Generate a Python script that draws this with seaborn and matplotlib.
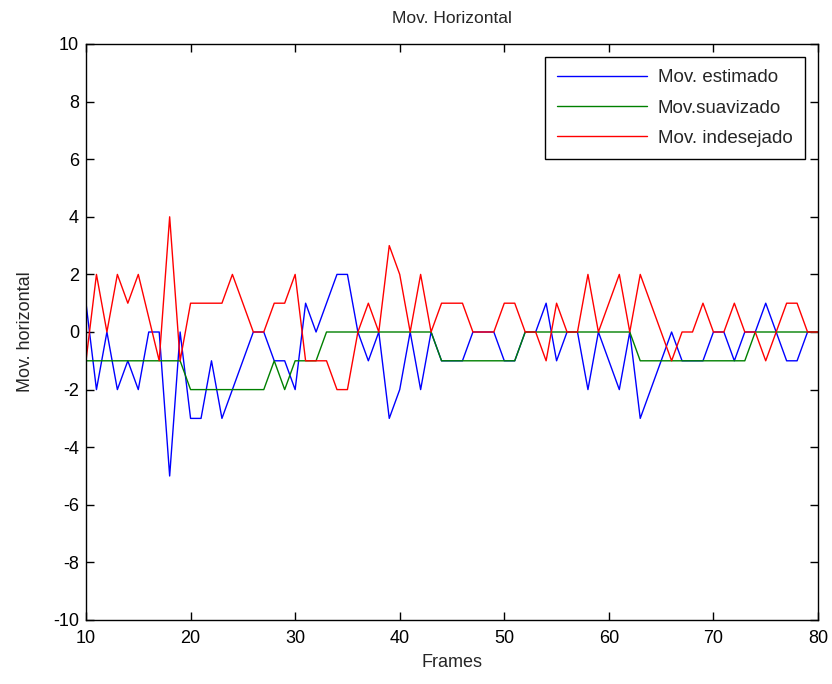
import numpy as np
import pandas as pd
import matplotlib
matplotlib.use("Agg")
import matplotlib.pyplot as plt
import seaborn as sns

frames = list(range(10, 81))
estimado = [1, -2, 0, -2, -1, -2, 0, 0, -5, 0,
            -3, -3, -1, -3, -2, -1, 0, 0, -1, -1,
            -2, 1, 0, 1, 2, 2, 0, -1, 0, -3,
            -2, 0, -2, 0, -1, -1, -1, 0, 0, 0,
            -1, -1, 0, 0, 1, -1, 0, 0, -2, 0,
            -1, -2, 0, -3, -2, -1, 0, -1, -1, -1,
            0, 0, -1, 0, 0, 1, 0, -1, -1, 0,
            0]
suavizado = [-1, -1, -1, -1, -1, -1, -1, -1, -1, -1,
             -2, -2, -2, -2, -2, -2, -2, -2, -1, -2,
             -1, -1, -1, 0, 0, 0, 0, 0, 0, 0,
             0, 0, 0, 0, -1, -1, -1, -1, -1, -1,
             -1, -1, 0, 0, 0, 0, 0, 0, 0, 0,
             0, 0, 0, -1, -1, -1, -1, -1, -1, -1,
             -1, -1, -1, -1, 0, 0, 0, 0, 0, 0,
             0]
indesejado = [-1, 2, 0, 2, 1, 2, 0.5, -1, 4, -1,
              1, 1, 1, 1, 2, 1, 0, 0, 1, 1,
              2, -1, -1, -1, -2, -2, 0, 1, 0, 3,
              2, 0, 2, 0, 1, 1, 1, 0, 0, 0,
              1, 1, 0, 0, -1, 1, 0, 0, 2, 0,
              1, 2, 0, 2, 1, 0, -1, 0, 0, 1,
              0, 0, 1, 0, 0, -1, 0, 1, 1, 0,
              0]
series_names = ["Mov. estimado", "Mov.suavizado", "Mov. indesejado"]
colors = ["#0000ff", "#008000", "#ff0000"]

df = pd.DataFrame({
    "Frames": frames * 3,
    "value": estimado + suavizado + indesejado,
    "serie": [series_names[0]] * len(frames) + [series_names[1]] * len(frames)
             + [series_names[2]] * len(frames),
})

sns.set_style("white")
plt.rcParams["font.family"] = ["Liberation Sans", "DejaVu Sans"]
plt.rcParams["axes.unicode_minus"] = False
plt.rcParams["xtick.direction"] = "in"
plt.rcParams["ytick.direction"] = "in"

fig = plt.figure(figsize=(8.32, 6.84), dpi=100)
ax = fig.add_axes([86 / 832, 1 - 620 / 684, (818 - 86) / 832, (620 - 44) / 684])

sns.lineplot(data=df, x="Frames", y="value", hue="serie", palette=colors,
             hue_order=series_names, linewidth=1.0, ax=ax, estimator=None,
             sort=False)

ax.set_xlim(10, 80)
ax.set_ylim(-10, 10)
ax.set_xticks(range(10, 81, 10))
ax.set_yticks(range(-10, 11, 2))
ax.tick_params(axis="both", which="both", direction="in", length=6, width=1,
               left=True, bottom=True, top=True, right=True,
               labelsize=13, colors="black")
ax.tick_params(axis="x", pad=7)
ax.tick_params(axis="y", pad=5)
for s in ax.spines.values():
    s.set_visible(True)
    s.set_color("black")
    s.set_linewidth(1.0)

ax.set_title("Mov. Horizontal", fontsize=12.5, pad=15)
ax.set_xlabel("Frames", fontsize=13, labelpad=5)
ax.set_ylabel("Mov. horizontal", fontsize=13, labelpad=14)

leg = ax.legend(loc="upper right", fontsize=13.5, frameon=True, fancybox=False,
                edgecolor="black", framealpha=1, handlelength=4.8,
                handletextpad=0.6, borderpad=0.65, labelspacing=0.7,
                borderaxespad=0.7)
leg.get_frame().set_linewidth(1.0)
leg.set_title(None)

fig.savefig("out.png", dpi=100, facecolor="white")
